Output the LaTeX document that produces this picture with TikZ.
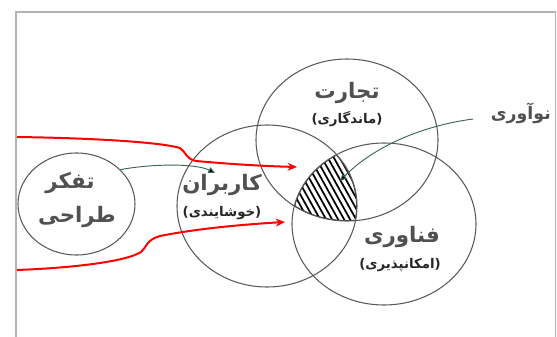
\documentclass[tikz,border=0pt]{standalone}
\usepackage{fontspec}
\newfontfamily\fa[Script=Arabic]{DejaVu Sans}
\TeXXeTstate=1
\usetikzlibrary{arrows.meta,shapes.geometric}
\definecolor{circ}{HTML}{5A5A5A}
\definecolor{lab}{HTML}{505050}
\definecolor{grn}{HTML}{3E6650}
\tikzset{
  venn/.style={draw=circ, line width=0.8pt, ellipse, inner sep=0pt},
  mainlab/.style={text=lab, font=\fa\bfseries\fontsize{16}{18}\selectfont, inner sep=0pt},
  sublab/.style={text=black!85, font=\fa\bfseries\fontsize{10}{12}\selectfont, inner sep=0pt},
  redarrow/.style={draw=red, line width=1.5pt, -{Stealth[length=7pt,width=6pt]}},
  thin arrow/.style={draw=grn, line width=0.7pt, -{Triangle[length=5pt,width=4.5pt,fill=black]}},
  hatch/.style={draw=black, line width=1.3pt},
  hatchrim/.style={draw=black!80, line width=1.3pt}
}
\begin{document}
\begin{tikzpicture}[x=0.75pt,y=-0.75pt]
\useasboundingbox (0,0) rectangle (557,336);
\draw[black!30, line width=0.8pt] (16,12) rectangle (555.5,340);
% hatched triple intersection
\begin{scope}
  \clip (267,206) ellipse [x radius=90, y radius=81];
  \clip (347,140) ellipse [x radius=91, y radius=81];
  \clip (384,224) ellipse [x radius=92, y radius=81];
  \foreach \i in {0,...,20} \draw[hatch] (228+\i*6,140) -- ++(50,90);
  \draw[hatchrim] (267,206) ellipse [x radius=90, y radius=81];
  \draw[hatchrim] (347,140) ellipse [x radius=91, y radius=81];
  \draw[hatchrim] (384,224) ellipse [x radius=92, y radius=81];
\end{scope}
% circles
\node[venn, minimum width=117*0.75pt, minimum height=102*0.75pt] (design) at (76.5,204) {};
\node[venn, minimum width=180*0.75pt, minimum height=162*0.75pt] (users) at (267,206) {};
\node[venn, minimum width=182*0.75pt, minimum height=162*0.75pt] (business) at (347,140) {};
\node[venn, minimum width=184*0.75pt, minimum height=162*0.75pt] (tech) at (384,224) {};
% labels
\node[mainlab] (t1) at (347,93) {\beginR تجارت\endR};
\node[sublab] (t1s) at (347,119) {\beginR (ماندگاری)\endR};
\node[mainlab] (u1) at (222,185) {\beginR کاربران\endR};
\node[sublab] (u1s) at (222,213) {\beginR (خوشایندی)\endR};
\node[mainlab] (d1) at (70,183) {\beginR تفکر\endR};
\node[mainlab] (d2) at (77,217) {\beginR طراحی\endR};
\node[mainlab] (f1) at (402,237) {\beginR فناوری\endR};
\node[sublab] (f1s) at (400,265) {\beginR (امکانپذیری)\endR};
\node[mainlab, font=\fa\bfseries\fontsize{13}{15}\selectfont, anchor=east] (inn) at (551,113) {\beginR نوآوری\endR};
% connector coordinates
\coordinate (r1s) at (17,137);
\coordinate (r1e) at (297,167);
\coordinate (r2s) at (17,270);
\coordinate (r2e) at (285,222);
\coordinate (ae) at (215,173);
\coordinate (ge) at (340,181);
\coordinate (gs) at (473,119);
% red arrows
\draw[redarrow] (r1s) .. controls (90,138) and (160,142) .. (180,148)
  .. controls (186,152) and (186,159) .. (196,161) .. controls (230,164) and (260,166) .. (r1e);
\draw[redarrow] (r2s) .. controls (70,268) and (125,262) .. (141,252)
  .. controls (147,247) and (146,240) .. (160,236) .. controls (200,228) and (250,224) .. (r2e);
% thin arrows
\draw[thin arrow] (design.38) .. controls (150,164) and (195,163) .. (ae);
\draw[thin arrow] (gs) .. controls (420,126) and (372,148) .. (ge);
\end{tikzpicture}
\end{document}
